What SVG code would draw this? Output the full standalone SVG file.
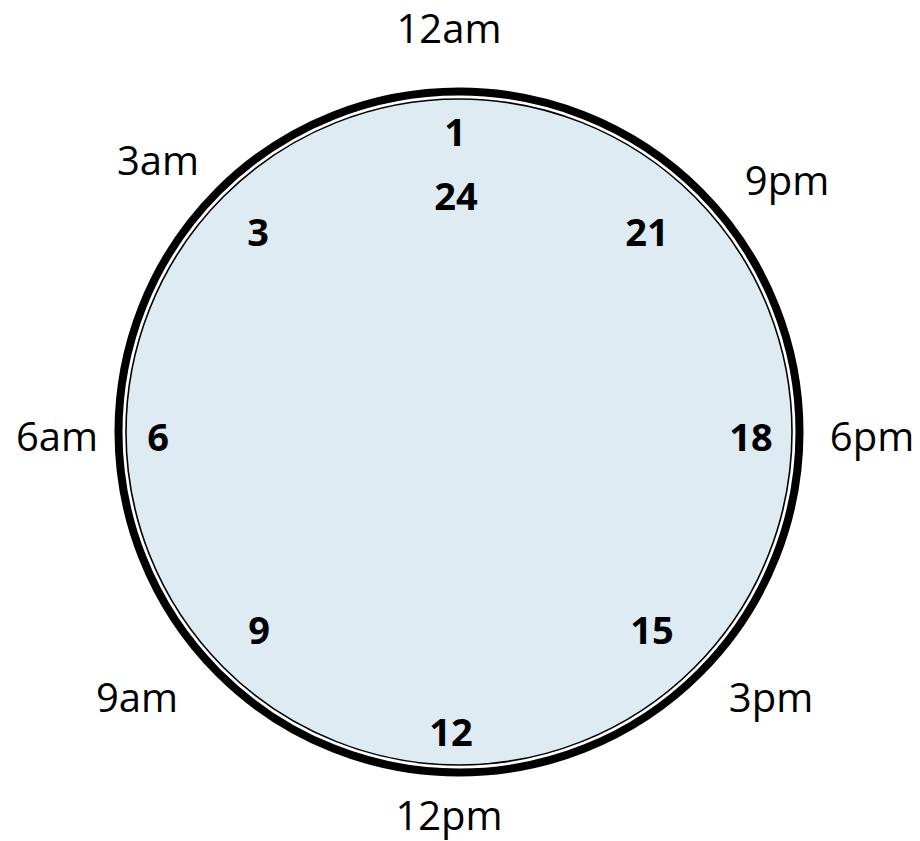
<svg xmlns="http://www.w3.org/2000/svg" width="920" height="841" viewBox="0 0 920 841">
<style>
.o{font-family:"Open Sans","Liberation Sans",sans-serif;font-size:40px;fill:#000;text-anchor:middle}
.b{font-family:"Open Sans","Liberation Sans",sans-serif;font-size:38px;font-weight:bold;fill:#000;text-anchor:middle}
</style>
<rect width="920" height="841" fill="#fff"/>
<g id="clock">
<circle cx="459" cy="432" r="340.5" fill="#fff" stroke="#000" stroke-width="8"/>
<circle cx="459" cy="432" r="333" fill="#deebf3" stroke="#000" stroke-width="1.6"/>
</g>
<g id="outer-labels">
<text class="o" x="449" y="43">12am</text>
<text class="o" x="158" y="175">3am</text>
<text class="o" x="787" y="195">9pm</text>
<text class="o" x="57" y="451">6am</text>
<text class="o" x="872" y="451">6pm</text>
<text class="o" x="137" y="712">9am</text>
<text class="o" x="771" y="712">3pm</text>
<text class="o" x="449" y="830">12pm</text>
</g>
<g id="inner-labels">
<text class="b" x="455" y="146">1</text>
<text class="b" x="456" y="210">24</text>
<text class="b" x="258" y="246">3</text>
<text class="b" x="647" y="246">21</text>
<text class="b" x="158" y="451">6</text>
<text class="b" x="751" y="451">18</text>
<text class="b" x="259" y="644">9</text>
<text class="b" x="652" y="644">15</text>
<text class="b" x="451" y="746">12</text>
</g>
</svg>
